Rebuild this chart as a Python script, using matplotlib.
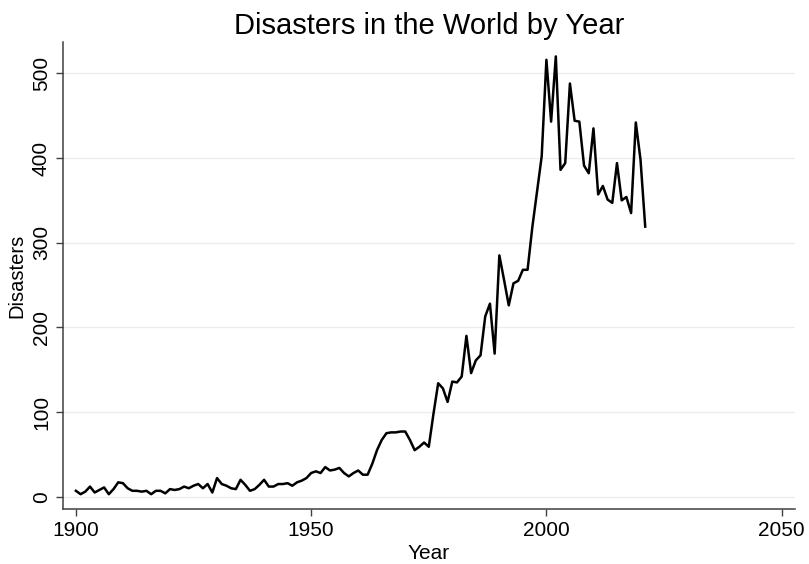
import numpy as np
import matplotlib.pyplot as plt

plt.rcParams['font.family'] = ['Liberation Sans', 'DejaVu Sans']

# yearly disaster counts, 1900-2021
years = np.arange(1900, 2022)
disasters = [
    7, 3, 6, 12, 5, 8, 11, 3, 9, 17,        # 1900s
    16, 10, 7, 7, 6, 7, 3, 7, 7, 4,         # 1910s
    9, 8, 9, 12, 10, 13, 15, 10, 15, 5,     # 1920s
    22, 15, 13, 10, 9, 20, 14, 7, 9, 14,    # 1930s
    20, 12, 12, 15, 15, 16, 13, 17, 19, 22, # 1940s
    28, 30, 28, 35, 31, 32, 34, 28, 24, 28, # 1950s
    31, 26, 26, 39, 55, 67, 75, 76, 76, 77, # 1960s
    77, 67, 55, 59, 64, 59, 98, 134, 128, 112,  # 1970s
    136, 135, 142, 190, 146, 161, 167, 213, 228, 169,  # 1980s
    285, 256, 226, 252, 255, 268, 268, 318, 360, 402,  # 1990s
    516, 443, 520, 386, 394, 488, 444, 443, 391, 382,  # 2000s
    435, 357, 367, 351, 347, 394, 350, 354, 335, 442,  # 2010s
    398, 319,                                          # 2020s
]
xticks = [1900, 1950, 2000, 2050]
yticks = [0, 100, 200, 300, 400, 500]

fig = plt.figure(figsize=(8.09, 5.64), dpi=100)
ax = fig.add_axes([0.0775, 0.0975, 0.905, 0.828])

ax.plot(years, disasters, color='black', lw=1.8, zorder=3)

ax.set_xlim(1897.2, 2052.8)
ax.set_ylim(-14.5, 537)
ax.set_xticks(xticks)
ax.set_yticks(yticks)
ax.grid(axis='y', color='#e6eeef', lw=1.0, zorder=0)

for side in ['top', 'right']:
    ax.spines[side].set_visible(False)
for side in ['left', 'bottom']:
    ax.spines[side].set_color('#404040')
    ax.spines[side].set_linewidth(1.1)

ax.tick_params(axis='both', direction='out', length=5, width=1, color='#404040',
               labelsize=15, labelcolor='black')
for lab in ax.get_yticklabels():
    lab.set_rotation(90)
    lab.set_va('center')

ax.set_xlabel('Year', fontsize=15, labelpad=3)
ax.set_ylabel('Disasters', fontsize=14.5, labelpad=4)
ax.set_title('Disasters in the World by Year', fontsize=21, pad=6)

fig.savefig('out.png', dpi=100, facecolor='white')
